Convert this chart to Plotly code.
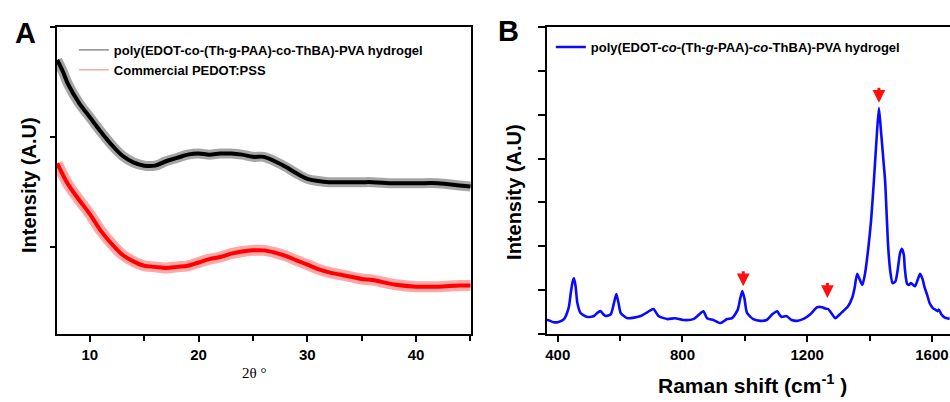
import plotly.graph_objects as go

# ---------------- Panel A data (XRD) ----------------
two_theta = [7, 7.5, 8, 9, 10, 11, 12, 13, 14, 15, 16, 17, 18, 19, 20, 21, 22, 23, 24, 25,
             26, 27, 28, 29, 30, 31, 32, 33, 34, 35, 36, 38, 40, 42, 44, 45]
hydrogel_xrd = [1.70, 1.60, 1.48, 1.31, 1.18, 1.05, 0.93, 0.83, 0.77, 0.74, 0.74, 0.78, 0.81, 0.84,
                0.85, 0.84, 0.85, 0.85, 0.84, 0.82, 0.82, 0.78, 0.73, 0.67, 0.62, 0.60, 0.59, 0.59,
                0.59, 0.59, 0.59, 0.58, 0.58, 0.58, 0.56, 0.55]
pedot_xrd = [0.76, 0.66, 0.57, 0.43, 0.30, 0.15, 0.03, -0.07, -0.13, -0.17, -0.18, -0.19, -0.18,
             -0.17, -0.14, -0.11, -0.09, -0.06, -0.04, -0.03, -0.03, -0.05, -0.08, -0.12, -0.16,
             -0.20, -0.23, -0.25, -0.27, -0.29, -0.30, -0.34, -0.36, -0.36, -0.35, -0.35]

# ---------------- Panel B data (Raman) ----------------
raman_shift = [365, 368, 387, 400, 420, 435, 442, 448, 452, 457, 463, 473, 495, 516, 530, 538, 546,
               554, 570, 580, 588, 595, 602, 624, 666, 688, 707, 723, 752, 776, 802, 835, 851, 867,
               879, 899, 922, 943, 959, 977, 985, 992, 999, 1007, 1027, 1050, 1070, 1088, 1104,
               1110, 1118, 1133, 1150, 1168, 1190, 1210, 1232, 1248, 1258, 1267, 1280, 1290, 1305,
               1315, 1330, 1344, 1352, 1360, 1368, 1377, 1386, 1396, 1405, 1414, 1422, 1430, 1437,
               1444, 1450, 1455, 1460, 1467, 1474, 1483, 1491, 1498, 1504, 1510, 1513, 1520, 1526,
               1533, 1540, 1546, 1555, 1562, 1570, 1577, 1584, 1593, 1603, 1612, 1618, 1622, 1630,
               1640, 1648, 1657]
raman_intensity = [0.32, 0.32, 0.27, 0.27, 0.34, 0.60, 0.95, 1.20, 1.27, 1.10, 0.70, 0.48, 0.39,
                   0.41, 0.50, 0.52, 0.45, 0.41, 0.45, 0.70, 0.91, 0.70, 0.48, 0.36, 0.41, 0.50,
                   0.57, 0.41, 0.34, 0.36, 0.32, 0.34, 0.43, 0.52, 0.36, 0.32, 0.25, 0.34, 0.36,
                   0.55, 0.80, 0.98, 0.80, 0.48, 0.34, 0.30, 0.32, 0.45, 0.52, 0.45, 0.39, 0.41,
                   0.32, 0.30, 0.35, 0.45, 0.61, 0.61, 0.58, 0.57, 0.45, 0.36, 0.45, 0.52, 0.62,
                   0.82, 1.05, 1.37, 1.25, 1.12, 1.40, 1.96, 2.60, 3.50, 4.40, 5.15, 4.60, 4.00,
                   3.48, 2.70, 1.96, 1.40, 1.16, 1.20, 1.50, 1.85, 1.94, 1.80, 1.50, 1.15, 1.12,
                   1.16, 1.12, 1.09, 1.25, 1.37, 1.25, 1.05, 0.91, 0.70, 0.59, 0.55, 0.52, 0.56,
                   0.45, 0.38, 0.36, 0.35]

# red arrows marking peaks (x position, tip intensity)
arrow_x = [995, 1265, 1430]
arrow_y = [1.09, 0.82, 5.27]

xA_ticks = [10, 20, 30, 40]
xB_ticks = [400, 800, 1200, 1600]

FONT = "Liberation Sans"
W, H = 950, 402
MT, MB = 27, 68
PH = H - MT - MB


def px(x):
    return x / W


def py(y):
    return (H - MB - y) / PH


fig = go.Figure()

# Panel A curves: light noisy band + solid core
fig.add_trace(go.Scatter(x=two_theta, y=hydrogel_xrd, mode="lines", xaxis="x", yaxis="y",
                         line=dict(color="rgba(0,0,0,0.35)", width=10, shape="spline"),
                         showlegend=False, hoverinfo="skip"))
fig.add_trace(go.Scatter(x=two_theta, y=hydrogel_xrd, mode="lines", xaxis="x", yaxis="y",
                         line=dict(color="black", width=4, shape="spline"),
                         showlegend=False))
fig.add_trace(go.Scatter(x=two_theta, y=pedot_xrd, mode="lines", xaxis="x", yaxis="y",
                         line=dict(color="rgba(255,0,0,0.35)", width=11, shape="spline"),
                         showlegend=False, hoverinfo="skip"))
fig.add_trace(go.Scatter(x=two_theta, y=pedot_xrd, mode="lines", xaxis="x", yaxis="y",
                         line=dict(color="#ff0000", width=4, shape="spline"),
                         showlegend=False))
# legend entries (thin lines as in the reference)
fig.add_trace(go.Scatter(x=[None], y=[None], mode="lines", xaxis="x", yaxis="y",
                         line=dict(color="#555555", width=1),
                         name="poly(EDOT-co-(Th-g-PAA)-co-ThBA)-PVA hydrogel", legend="legend"))
fig.add_trace(go.Scatter(x=[None], y=[None], mode="lines", xaxis="x", yaxis="y",
                         line=dict(color="#f08080", width=1),
                         name="Commercial PEDOT:PSS", legend="legend"))

# Panel B curve
fig.add_trace(go.Scatter(x=raman_shift, y=raman_intensity, mode="lines", xaxis="x2", yaxis="y2",
                         line=dict(color="#0a0aff", width=2.6, shape="spline", smoothing=0.6),
                         name="poly(EDOT-<i>co</i>-(Th-<i>g</i>-PAA)-<i>co</i>-ThBA)-PVA hydrogel",
                         legend="legend2"))

axis_common = dict(showline=True, linecolor="black", linewidth=2, showgrid=False,
                   zeroline=False, ticks="outside", tickcolor="black", tickwidth=2)
tickfont = dict(family=FONT, size=15, color="black", weight="bold")

annotations = []
for xa, ya in zip(arrow_x, arrow_y):
    annotations.append(dict(x=xa, y=ya, xref="x2", yref="y2", showarrow=True, ax=0, ay=-17,
                            arrowcolor="#ff1010", arrowwidth=3, arrowhead=2, arrowsize=0.85,
                            text=" ", font=dict(size=1)))


def label(text, x, y, font, angle=0):
    return dict(text=text, x=px(x), y=py(y), xref="paper", yref="paper", showarrow=False,
                xanchor="center", yanchor="middle", textangle=angle, font=font)


annotations += [
    label("A", 24, 33, dict(family=FONT, size=29, color="black", weight="bold")),
    label("B", 508, 31, dict(family=FONT, size=29, color="black", weight="bold")),
    label("Intensity (A.U)", 27, 185, dict(family=FONT, size=20, color="black", weight="bold"), -90),
    label("Intensity (A.U)", 513, 192, dict(family=FONT, size=20, color="black", weight="bold"), -90),
    label("2\u03b8 \u00b0", 253, 373, dict(family="Liberation Serif", size=15, color="black")),
    label("Raman shift (cm<sup>-1</sup> )", 752, 384,
          dict(family=FONT, size=21, color="black", weight="bold")),
]

fig.update_layout(
    width=W, height=H,
    margin=dict(l=0, r=0, t=MT, b=MB),
    paper_bgcolor="white", plot_bgcolor="white",
    xaxis=dict(axis_common, domain=[px(55), px(470)], range=[6.97, 45.05], mirror=True,
               tickvals=xA_ticks, ticklen=6, tickfont=tickfont,
               minor=dict(ticks="outside", dtick=5, tick0=0, ticklen=5, tickwidth=2,
                          tickcolor="black", showgrid=False),
               anchor="y"),
    yaxis=dict(axis_common, domain=[0, 1], range=[-0.79, 2.0], mirror=True,
               tickvals=[0, 1, 2], ticklen=5, showticklabels=False, anchor="x"),
    xaxis2=dict(axis_common, domain=[px(546), 1.0], range=[365, 1658], mirror=True,
                tickvals=xB_ticks, ticklen=6, tickfont=tickfont,
                minor=dict(ticks="outside", dtick=200, tick0=0, ticklen=5, tickwidth=2,
                           tickcolor="black", showgrid=False),
                anchor="y2"),
    yaxis2=dict(axis_common, domain=[0, 1], range=[0, 7], mirror=False,
                dtick=1, tick0=0, ticklen=7, showticklabels=False, anchor="x2"),
    legend=dict(x=px(72), y=py(35), xanchor="left", yanchor="top", bgcolor="rgba(0,0,0,0)",
                font=dict(family=FONT, size=13, color="black", weight="bold"),
                tracegroupgap=0, itemwidth=30),
    legend2=dict(x=px(550), y=py(32), xanchor="left", yanchor="top", bgcolor="rgba(0,0,0,0)",
                 font=dict(family=FONT, size=13, color="black", weight="bold"),
                 itemwidth=30),
    annotations=annotations,
    showlegend=True,
)

fig.write_html("out.html", config={"displayModeBar": False},
               post_script="document.body.style.margin='0';")
